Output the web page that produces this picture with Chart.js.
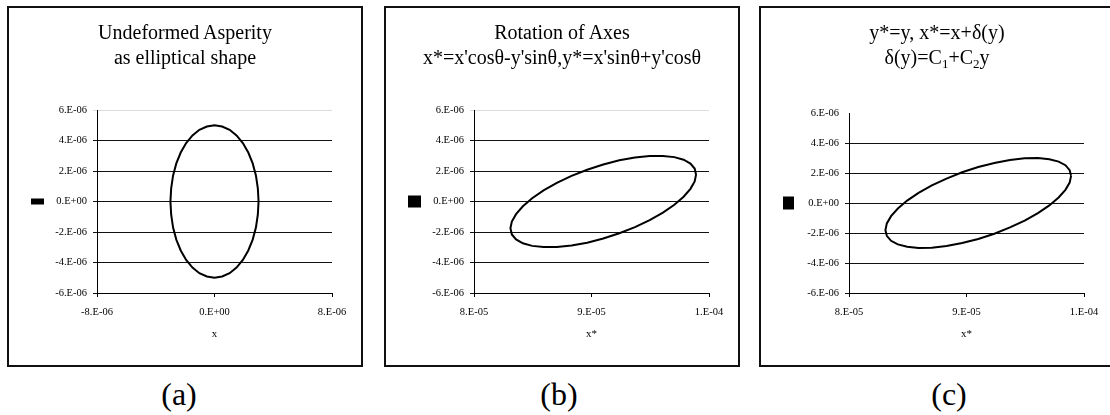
<!DOCTYPE html>
<html>
<head>
<meta charset="utf-8">
<script src="https://cdn.jsdelivr.net/npm/chart.js@4/dist/chart.umd.min.js"></script>
<style>
body { margin: 0; background: #fff; width: 1110px; height: 415px; overflow: hidden; position: relative; font-family: "Liberation Serif", serif; }
.frame { position: absolute; top: 6px; width: 352px; height: 357px; border: 2px solid #111; }
.frame canvas { display: block; position: absolute; left: 0; top: 0; }
.ttl { position: absolute; left: 0; top: 12px; width: 352px; text-align: center; font-size: 20px; line-height: 25px; color: #000; white-space: nowrap; }
.ttl sub { font-size: 13px; line-height: 0; vertical-align: -4px; }
.cap { position: absolute; top: 378px; width: 80px; text-align: center; font-size: 32px; line-height: 32px; color: #000; }
</style>
</head>
<body>
<div class="frame" style="left:7px"><canvas id="chartA" width="352" height="357"></canvas><div class="ttl" id="ttlA"></div></div>
<div class="frame" style="left:384px"><canvas id="chartB" width="352" height="357"></canvas><div class="ttl" id="ttlB"></div></div>
<div class="frame" style="left:759px; width:380px"><canvas id="chartC" width="352" height="357"></canvas><div class="ttl" id="ttlC"></div></div>
<div class="cap" style="left:139px">(a)</div>
<div class="cap" style="left:519px">(b)</div>
<div class="cap" style="left:909px">(c)</div>
<script>
// all values in micrometres (x 1E-06)
var aX = [3.00, 2.95, 2.82, 2.60, 2.30, 1.93, 1.50, 1.03, 0.52, 0.00, -0.52, -1.03, -1.50, -1.93, -2.30, -2.60, -2.82, -2.95, -3.00,
          -2.95, -2.82, -2.60, -2.30, -1.93, -1.50, -1.03, -0.52, 0.00, 0.52, 1.03, 1.50, 1.93, 2.30, 2.60, 2.82, 2.95, 3.00];
var aY = [0.00, 0.87, 1.71, 2.50, 3.21, 3.83, 4.33, 4.70, 4.92, 5.00, 4.92, 4.70, 4.33, 3.83, 3.21, 2.50, 1.71, 0.87, 0.00,
          -0.87, -1.71, -2.50, -3.21, -3.83, -4.33, -4.70, -4.92, -5.00, -4.92, -4.70, -4.33, -3.83, -3.21, -2.50, -1.71, -0.87, 0.00];

var bX = [98.90, 98.78, 98.42, 97.84, 97.05, 96.08, 94.95, 93.70, 92.37, 91.00, 89.63, 88.30, 87.05, 85.92, 84.95, 84.16, 83.58, 83.22, 83.10,
          83.22, 83.58, 84.16, 84.95, 85.92, 87.05, 88.30, 89.63, 91.00, 92.37, 93.70, 94.95, 96.08, 97.05, 97.84, 98.42, 98.78, 98.90];
var bY = [1.76, 2.16, 2.49, 2.74, 2.91, 2.99, 2.98, 2.88, 2.70, 2.43, 2.08, 1.68, 1.22, 0.73, 0.21, -0.31, -0.83, -1.32, -1.76,
          -2.16, -2.49, -2.74, -2.91, -2.99, -2.98, -2.88, -2.70, -2.43, -2.08, -1.68, -1.22, -0.73, -0.21, 0.31, 0.83, 1.32, 1.76];

var cX = [98.90, 98.78, 98.42, 97.84, 97.05, 96.08, 94.95, 93.70, 92.37, 91.00, 89.63, 88.30, 87.05, 85.92, 84.95, 84.16, 83.58, 83.22, 83.10,
          83.22, 83.58, 84.16, 84.95, 85.92, 87.05, 88.30, 89.63, 91.00, 92.37, 93.70, 94.95, 96.08, 97.05, 97.84, 98.42, 98.78, 98.90];
var cY = [1.81, 2.19, 2.52, 2.76, 2.92, 3.00, 2.98, 2.87, 2.67, 2.40, 2.05, 1.63, 1.17, 0.67, 0.16, -0.37, -0.88, -1.36, -1.81,
          -2.19, -2.52, -2.76, -2.92, -3.00, -2.98, -2.87, -2.67, -2.40, -2.05, -1.63, -1.17, -0.67, -0.16, 0.37, 0.88, 1.36, 1.81];

var yTicks = [-6, -4, -2, 0, 2, 4, 6];
var yTickLabels = ['-6.E-06', '-4.E-06', '-2.E-06', '0.E+00', '2.E-06', '4.E-06', '6.E-06'];
var aXTicks = [-8, 0, 8];
var aXTickLabels = ['-8.E-06', '0.E+00', '8.E-06'];
var bcXTicks = [80, 90, 100];
var bcXTickLabels = ['8.E-05', '9.E-05', '1.E-04'];

var titleA = ['Undeformed Asperity', 'as elliptical shape'];
var titleB = ['Rotation of Axes', "x*=x'cos\u03b8-y'sin\u03b8,y*=x'sin\u03b8+y'cos\u03b8"];
var titleC = ['y*=y, x*=x+\u03b4(y)', '\u03b4(y)=C<sub>1</sub>+C<sub>2</sub>y'];

var SERIF = "'Liberation Serif', 'Times New Roman', serif";

document.getElementById('ttlA').innerHTML = titleA.join('<br>');
document.getElementById('ttlB').innerHTML = titleB.join('<br>');
document.getElementById('ttlC').innerHTML = titleC.join('<br>');

function toPoints(xs, ys) {
    return xs.map(function (x, i) { return {x: x, y: ys[i]}; });
}

function makeChart(id, xs, ys, areaTop, xTicks, xLabels, xName, box, topGrid) {
    var AREA_LEFT = 88, PAD_LEFT = 22;
    return new Chart(document.getElementById(id), {
        type: 'scatter',
        data: {
            datasets: [{
                label: '',
                data: toPoints(xs, ys),
                showLine: true,
                borderColor: '#000',
                backgroundColor: '#000',
                borderWidth: 2,
                pointRadius: 0,
                tension: 0,
                fill: false
            }]
        },
        options: {
            responsive: false,
            animation: false,
            devicePixelRatio: 1,
            layout: { padding: { left: PAD_LEFT, right: 29, top: areaTop, bottom: 12 } },
            plugins: {
                tooltip: { enabled: false },
                title: { display: false },
                legend: {
                    display: true,
                    position: 'left',
                    fullSize: false,
                    labels: {
                        boxWidth: box[0],
                        boxHeight: box[1],
                        padding: 0,
                        font: { size: 2 },
                        color: '#000'
                    }
                }
            },
            scales: {
                x: {
                    type: 'linear',
                    min: xTicks[0],
                    max: xTicks[xTicks.length - 1],
                    afterBuildTicks: function (s) { s.ticks = xTicks.map(function (v) { return {value: v}; }); },
                    afterFit: function (s) { s.height = 60; },
                    ticks: {
                        color: '#000',
                        font: { family: SERIF, size: 10.5 },
                        padding: 9,
                        maxRotation: 0,
                        callback: function (v, i) { return xLabels[i]; }
                    },
                    grid: { drawOnChartArea: false, tickLength: 4, color: '#000' },
                    border: { display: true, color: '#000', width: 1 },
                    title: {
                        display: true,
                        text: xName,
                        color: '#000',
                        font: { family: SERIF, size: 11 },
                        padding: { top: 0, bottom: 12 }
                    }
                },
                y: {
                    type: 'linear',
                    min: yTicks[0],
                    max: yTicks[yTicks.length - 1],
                    afterBuildTicks: function (s) { s.ticks = yTicks.map(function (v) { return {value: v}; }); },
                    afterFit: function (s) {
                        var lw = s.chart.legend ? s.chart.legend.width : 0;
                        s.width = AREA_LEFT - PAD_LEFT - lw;
                    },
                    ticks: {
                        color: '#000',
                        font: { family: SERIF, size: 10.5 },
                        padding: 6,
                        callback: function (v, i) { return yTickLabels[i]; }
                    },
                    grid: {
                        tickLength: 4,
                        lineWidth: 1,
                        color: function (c) { return c.tick && c.tick.value === 6 ? topGrid : '#111'; }
                    },
                    border: { display: true, color: '#000', width: 1 }
                }
            }
        }
    });
}

makeChart('chartA', aX, aY, 102, aXTicks, aXTickLabels, 'x', [12, 4], '#dcdcdc');
makeChart('chartB', bX, bY, 102, bcXTicks, bcXTickLabels, 'x*', [12, 10], '#dcdcdc');
makeChart('chartC', cX, cY, 105, bcXTicks, bcXTickLabels, 'x*', [10, 11], 'rgba(0,0,0,0)');
</script>
</body>
</html>
